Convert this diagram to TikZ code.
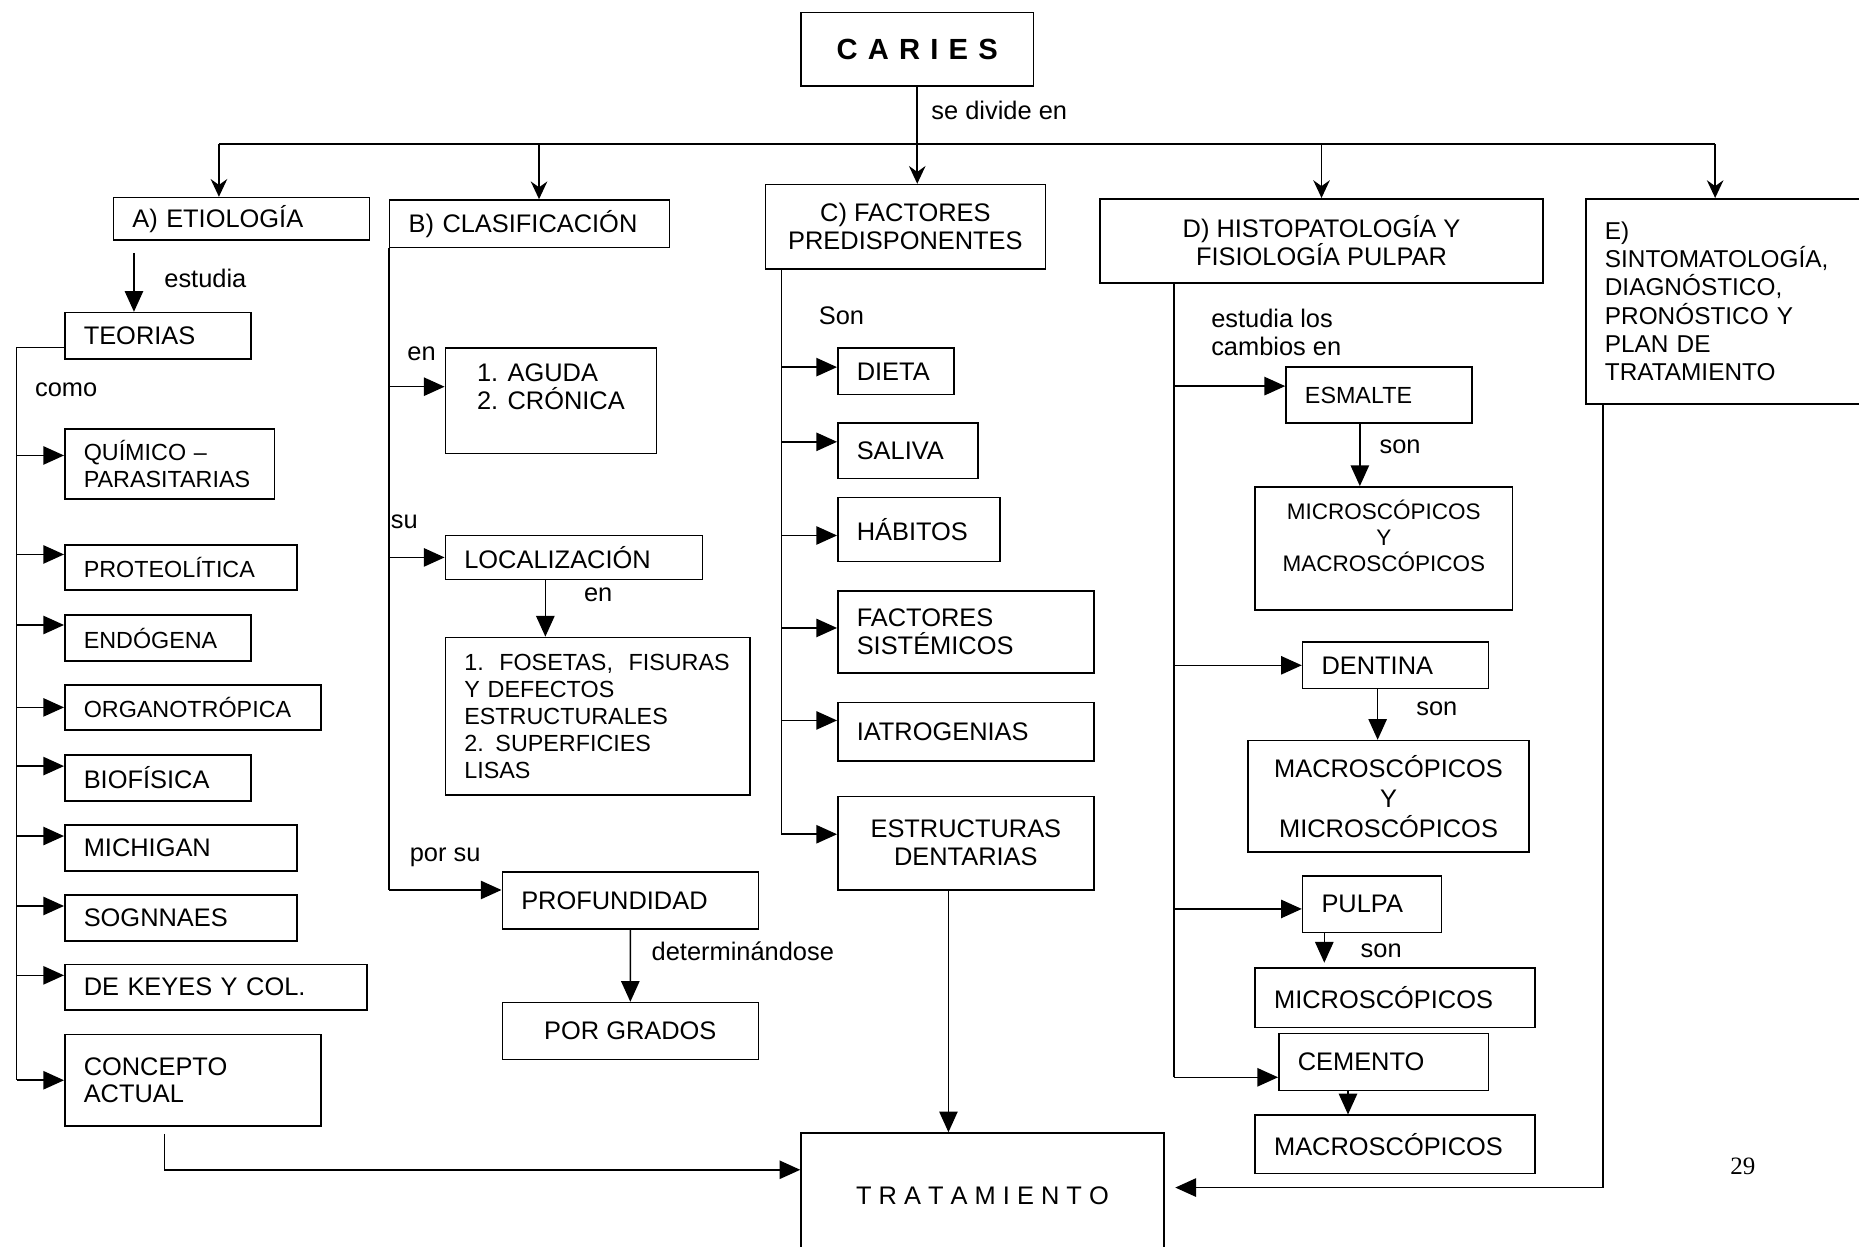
\documentclass[tikz,border=0pt]{standalone}
\usepackage{fontspec}
\setmainfont{Liberation Sans}
\newfontfamily\pagefont{Liberation Serif}
\usetikzlibrary{positioning,arrows.meta}
\hyphenpenalty=10000

\begin{document}
\begin{tikzpicture}[x=0.02cm, y=-0.02cm, line width=0.75pt,
		font=\fontsize{12.2}{13.4}\selectfont,
		boxbase/.style={draw, anchor=north west, inner xsep=0.32cm, inner ysep=0pt},
		box/.style 2 args={boxbase, minimum width=#1*0.02cm, minimum height=#2*0.02cm, text width=#1*0.02cm-0.64cm, align=left},
		cbox/.style 2 args={boxbase, minimum width=#1*0.02cm, minimum height=#2*0.02cm, align=center},
		smalltext/.style={font=\fontsize{11.2}{13}\selectfont},
		lbl/.style={anchor=west, inner sep=0pt},
		stl/.style={-{Stealth[length=0.3cm, width=0.28cm, inset=0.1cm]}},
		tri/.style={-{Triangle[length=0.35cm, width=0.31cm]}}
	]
	\useasboundingbox (0,0) rectangle (1568,1051);

	% Top
	\node[cbox={196}{62}, font={\fontsize{14}{16}\selectfont\bfseries\spaceskip=.35em\relax}] (caries) at (675,10) {C A R I E S};
	\node[box={216}{36}] (etio) at (95,166) {A) ETIOLOGÍA};
	\node[box={236}{40}] (clasif) at (328,168) {B) CLASIFICACIÓN};
	\node[cbox={236}{71}] (factores) at (645,155) {C) FACTORES\\PREDISPONENTES};
	\node[cbox={374}{71}] (histo) at (927,167) {D) HISTOPATOLOGÍA Y\\FISIOLOGÍA PULPAR};
	\node[box={233}{173}, font=\fontsize{11.7}{13.6}\selectfont] (sinto) at (1337,167) {E)\\SINTOMATOLOGÍA,\\DIAGNÓSTICO,\\PRONÓSTICO Y\\PLAN DE\\TRATAMIENTO};

	% A) Etiologia
	\node[box={157}{39}] (teorias) at (54,263) {TEORIAS};
	\node[box={177}{59}, smalltext] (quimico) at (54,361) {QUÍMICO –\\PARASITARIAS};
	\node[box={196}{38}, smalltext] (proteo) at (54,459) {PROTEOLÍTICA};
	\node[box={157}{39}, smalltext] (endo) at (54,518) {ENDÓGENA};
	\node[box={216}{38}, smalltext] (organo) at (54,577) {ORGANOTRÓPICA};
	\node[box={157}{39}] (biof) at (54,636) {BIOFÍSICA};
	\node[box={196}{39}] (mich) at (54,695) {MICHIGAN};
	\node[box={196}{39}] (sogn) at (54,754) {SOGNNAES};
	\node[box={255}{38}] (keyes) at (54,813) {DE KEYES Y COL.};
	\node[box={216}{77}] (concepto) at (54,872) {CONCEPTO\\ACTUAL};

	% B) Clasificacion
	\node[cbox={178}{89}, align=left] (aguda) at (375,293) {1. AGUDA\\2. CRÓNICA\\~};
	\node[box={217}{37}] (local) at (375,451) {LOCALIZACIÓN};
	\node[box={257}{133}, smalltext] (fosetas) at (375,537) {1.~~FOSETAS,~~FISURAS\\Y DEFECTOS\\ESTRUCTURALES\\2. SUPERFICIES\\LISAS};
	\node[box={216}{48}] (profund) at (423,735) {PROFUNDIDAD};
	\node[cbox={216}{48}] (grados) at (423,845) {POR GRADOS};

	% C) Factores
	\node[box={98}{39}] (dieta) at (706,293) {DIETA};
	\node[box={118}{47}] (saliva) at (706,356) {SALIVA};
	\node[box={137}{54}] (habitos) at (706,419) {HÁBITOS};
	\node[box={216}{69}] (sistem) at (706,498) {FACTORES\\SISTÉMICOS};
	\node[box={216}{49}] (iatro) at (706,592) {IATROGENIAS};
	\node[cbox={216}{79}] (estruct) at (706,671) {ESTRUCTURAS\\DENTARIAS};

	% D) Histopatologia
	\node[box={157}{47}, smalltext] (esmalte) at (1084,309) {ESMALTE};
	\node[cbox={217}{104}, font=\fontsize{10.8}{12.5}\selectfont] (microa) at (1058,410) {MICROSCÓPICOS\\Y\\MACROSCÓPICOS\\~};
	\node[box={157}{39}] (dentina) at (1098,541) {DENTINA};
	\node[cbox={237}{94}, font=\fontsize{12.2}{14.5}\selectfont] (macroa) at (1052,624) {MACROSCÓPICOS\\Y\\MICROSCÓPICOS};
	\node[box={117}{48}] (pulpa) at (1098,738) {PULPA};
	\node[box={236}{50}] (microb) at (1058,816) {MICROSCÓPICOS};
	\node[box={177}{48}] (cemento) at (1078,871) {CEMENTO};
	\node[box={236}{49}] (macrob) at (1058,940) {MACROSCÓPICOS};

	% Tratamiento
	\node[cbox={306}{105}] (trata) at (675,955) {T R A T A M I E N T O};
	\node[font=\pagefont\fontsize{12}{14}\selectfont] (page) at (1470,984) {29};

	% Arrows from CARIES
	\coordinate (bus) at ([yshift=-0.96cm]caries.south);
	\draw[stl] (caries.south) -- (caries.south |- factores.north);
	\draw ([xshift=-.38cm]etio.north |- bus) -- ([xshift=-.15cm]sinto.north |- bus);
	\draw[stl] ([xshift=-.38cm]etio.north |- bus) -- ([xshift=-.38cm]etio.north);
	\draw[stl] ([xshift=.16cm]clasif.north |- bus) -- ([xshift=.16cm]clasif.north);
	\draw[stl] (histo.north |- bus) -- (histo.north);
	\draw[stl] ([xshift=-.15cm]sinto.north |- bus) -- ([xshift=-.15cm]sinto.north);
	\node[lbl] at (785,93) {se divide en};

	% A branch
	\draw[tri] ([xshift=.36cm, yshift=-.2cm]etio.south west) -- ([xshift=.36cm]etio.south west |- teorias.north);
	\node[lbl] at (138,235) {estudia};
	\coordinate (atrunk) at ([xshift=-0.8cm, yshift=-0.2cm]teorias.west);
	\draw ([yshift=-.2cm]teorias.west) -- (atrunk) -- (atrunk |- concepto.west);
	\node[lbl] at (29,329) {como};
	\foreach \n/\s in {quimico/.14, proteo/.22, endo/.22, organo/0, biof/.2, mich/.2, sogn/.2, keyes/.2, concepto/0}
		\draw[tri] ([yshift=\s cm]atrunk |- \n.west) -- ([yshift=\s cm]\n.west);
	\draw[tri] ([xshift=-.48cm, yshift=-.12cm]concepto.south) |- ([yshift=.43cm]trata.west);

	% B branch
	\draw (clasif.south west) -- ([yshift=.18cm]clasif.south west |- profund.west);
	\draw[tri] ([yshift=.24cm]clasif.south west |- aguda.west) -- ([yshift=.24cm]aguda.west);
	\draw[tri] (clasif.south west |- local.west) -- (local.west);
	\draw[tri] ([yshift=.18cm]clasif.south west |- profund.west) -- ([yshift=.18cm]profund.west);
	\node[lbl] at (343,298) {en};
	\node[lbl] at (329,440) {su};
	\node[lbl] at (345,723) {por su};
	\draw[tri] ([xshift=1.7cm]local.south west) -- ([xshift=1.7cm]local.south west |- fosetas.north);
	\node[lbl] at (492,502) {en};
	\draw[tri] (profund.south) -- (grados.north);
	\node[lbl] at (549,802) {determinándose};

	% C branch
	\coordinate (ctrunk) at ([xshift=.28cm]factores.south west);
	\draw (ctrunk) -- ([yshift=.15cm]ctrunk |- estruct.west);
	\node[lbl] at (690,266) {Son};
	\foreach \n/\s in {dieta/.07, saliva/.15, habitos/-.1, sistem/.07, iatro/.19, estruct/.15}
		\draw[tri] ([yshift=\s cm]ctrunk |- \n.west) -- ([yshift=\s cm]\n.west);
	\draw[tri] ([xshift=1.88cm]estruct.south west) -- ([xshift=1.88cm]estruct.south west |- trata.north);

	% D branch
	\coordinate (dtrunk) at ([xshift=1.26cm]histo.south west);
	\draw (dtrunk) -- ([yshift=-.26cm]dtrunk |- cemento.west);
	\node[lbl, align=left] at (1021,280) {estudia los\\cambios en};
	\foreach \n/\s in {esmalte/.15, dentina/0, pulpa/-.08, cemento/-.26}
		\draw[tri] ([yshift=\s cm]dtrunk |- \n.west) -- ([yshift=\s cm]\n.west);
	\draw[tri] ([xshift=1.26cm]esmalte.south west) -- ([xshift=1.26cm]esmalte.south west |- microa.north);
	\node[lbl] at (1163,377) {son};
	\draw[tri] ([xshift=1.28cm]dentina.south west) -- ([xshift=1.28cm]dentina.south west |- macroa.north);
	\node[lbl] at (1194,598) {son};
	\draw[tri] ([xshift=.38cm]pulpa.south west) -- ([xshift=.38cm, yshift=.08cm]pulpa.south west |- microb.north);
	\node[lbl] at (1147,802) {son};
	\draw[tri] ([xshift=1.18cm]cemento.south west) -- ([xshift=1.18cm]cemento.south west |- macrob.north);

	% E branch
	\draw[tri] ([xshift=.3cm]sinto.south west) |- ([xshift=.18cm, yshift=.13cm]trata.east);
\end{tikzpicture}
\end{document}
